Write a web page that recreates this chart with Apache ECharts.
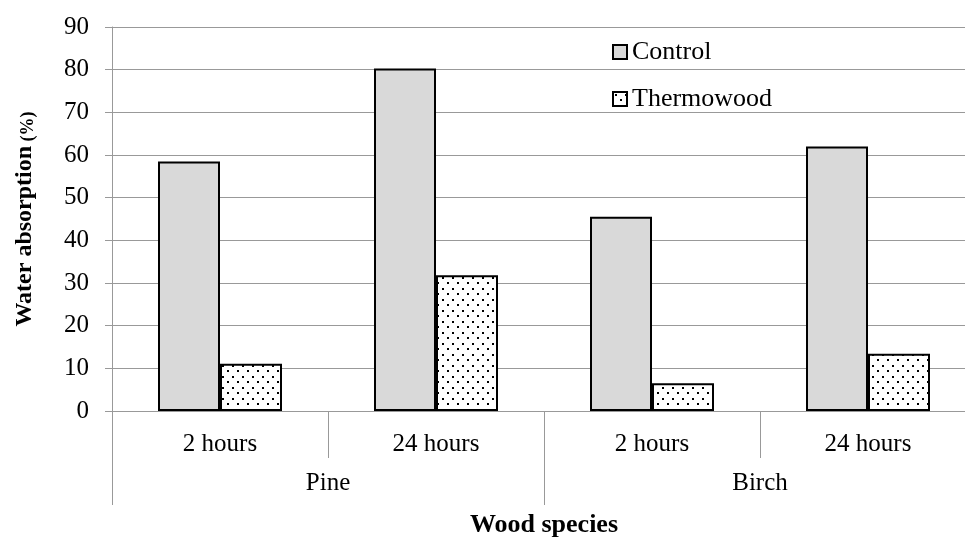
<!DOCTYPE html>
<html>
<head>
<meta charset="utf-8">
<script src="https://cdn.jsdelivr.net/npm/echarts@6/dist/echarts.min.js"></script>
<style>
  html, body { margin: 0; padding: 0; background: #fff; }
  #chart { width: 965px; height: 540px; }
</style>
</head>
<body>
<div id="chart"></div>
<script>
// data
var hours = ["2 hours", "24 hours", "2 hours", "24 hours"];
var species = ["Pine", "Birch"];
var control = [58.5, 80.3, 45.5, 62.0];
var thermowood = [11.1, 31.8, 6.5, 13.4];
var yTicks = [0, 10, 20, 30, 40, 50, 60, 70, 80, 90];

// dotted fill for thermowood
function dots() {
  var c = document.createElement("canvas");
  c.width = 10;
  c.height = 11;
  var ctx = c.getContext("2d");
  ctx.fillStyle = "#fff";
  ctx.fillRect(0, 0, 10, 11);
  ctx.fillStyle = "#000";
  ctx.fillRect(2, 2, 2, 2);
  ctx.fillRect(7, 7, 2, 2);
  return c;
}

var font = "'Liberation Serif', serif";
var grey = "#999";

var myChart = echarts.init(document.getElementById("chart"));

myChart.setOption({
  animation: false,
  textStyle: { fontFamily: font, color: "#000" },
  // the plot runs a bit past the right edge like the original
  grid: { left: 112, width: 864, top: 27, height: 384, containLabel: false, outerBoundsMode: "none" },
  legend: {
    orient: "vertical",
    left: 612,
    top: 39,
    padding: 0,
    icon: "rect",
    itemWidth: 14,
    itemHeight: 14,
    itemGap: 21,
    textStyle: { fontFamily: font, fontSize: 26, color: "#000" },
    data: ["Control", "Thermowood"]
  },
  xAxis: [
    {
      type: "category",
      data: hours,
      axisLine: { show: true, lineStyle: { color: grey, width: 1 } },
      axisTick: { show: true, length: 47, lineStyle: { color: grey } },
      axisLabel: { fontFamily: font, fontSize: 25, color: "#000", margin: 21 }
    },
    {
      type: "category",
      data: species,
      position: "bottom",
      axisLine: { show: true, lineStyle: { color: grey, width: 1 } },
      axisTick: { show: true, length: 94, lineStyle: { color: grey } },
      axisLabel: { fontFamily: font, fontSize: 25, color: "#000", margin: 60 },
      name: "Wood species",
      nameLocation: "middle",
      nameGap: 101,
      nameTextStyle: { fontFamily: font, fontSize: 26, fontWeight: "bold", color: "#000" }
    }
  ],
  yAxis: {
    type: "value",
    min: yTicks[0],
    max: yTicks[yTicks.length - 1],
    interval: 10,
    axisLine: { show: true, lineStyle: { color: grey } },
    axisTick: { show: true, inside: false, length: 7, lineStyle: { color: grey } },
    splitLine: { show: true, lineStyle: { color: grey, width: 1 } },
    axisLabel: { fontFamily: font, fontSize: 25, color: "#000", margin: 23 },
    name: "{a|Water absorption}{b| (%)}",
    nameLocation: "middle",
    nameRotate: 90,
    nameGap: 75,
    nameTextStyle: {
      rich: {
        a: { fontFamily: font, fontSize: 24, fontWeight: "bold", color: "#000", verticalAlign: "bottom" },
        b: { fontFamily: font, fontSize: 18, fontWeight: "bold", color: "#000", verticalAlign: "bottom" }
      }
    }
  },
  series: [
    {
      name: "Control",
      type: "bar",
      xAxisIndex: 0,
      barWidth: 62,
      barGap: "0%",
      data: control,
      itemStyle: { color: "#d9d9d9", borderColor: "#000", borderWidth: 2 }
    },
    {
      name: "Thermowood",
      type: "bar",
      xAxisIndex: 0,
      barWidth: 62,
      barGap: "0%",
      data: thermowood,
      itemStyle: { color: { image: dots(), repeat: "repeat" }, borderColor: "#000", borderWidth: 2 }
    }
  ]
});
</script>
</body>
</html>
